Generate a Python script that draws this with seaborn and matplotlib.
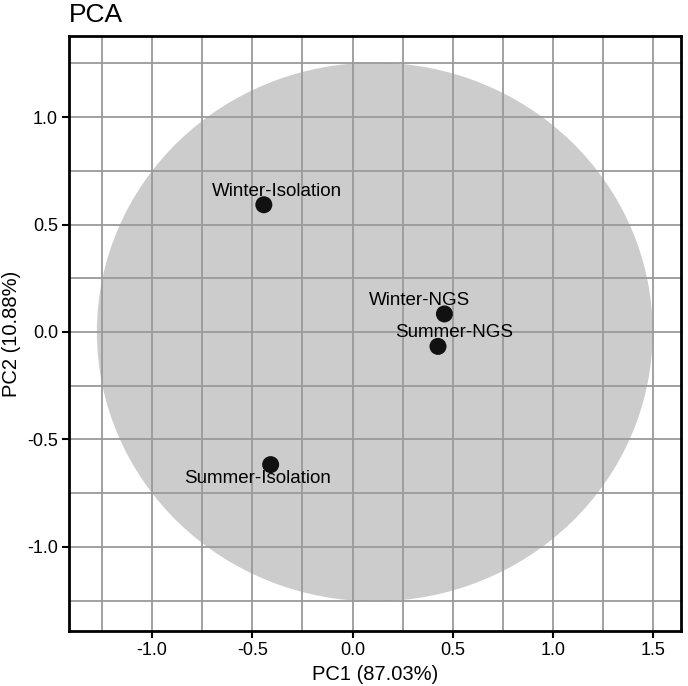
import matplotlib
matplotlib.use("Agg")
import matplotlib.pyplot as plt
from matplotlib.patches import Ellipse
from matplotlib.ticker import MultipleLocator
import seaborn as sns
import pandas as pd

# sample scores on the first two components
samples = ["Winter-Isolation", "Winter-NGS", "Summer-NGS", "Summer-Isolation"]
pc1 = [-0.442, 0.458, 0.426, -0.408]
pc2 = [0.592, 0.084, -0.067, -0.617]

# confidence ellipse
ell_center = (0.111, 0.0)
ell_width = 2.77
ell_height = 2.506

df = pd.DataFrame({"sample": samples, "PC1": pc1, "PC2": pc2})

sns.set_style("white")
plt.rcParams["font.family"] = ["Liberation Sans", "DejaVu Sans"]
plt.rcParams["axes.unicode_minus"] = False
plt.rcParams["text.color"] = "black"
plt.rcParams["axes.labelcolor"] = "black"
plt.rcParams["xtick.color"] = "black"
plt.rcParams["ytick.color"] = "black"

fig = plt.figure(figsize=(6.88, 6.86), dpi=100)
ax = fig.add_axes([0.1003, 0.0802, 0.8895, 0.8673])

ax.add_patch(Ellipse(ell_center, ell_width, ell_height, facecolor="#cccccc",
                     edgecolor="none", zorder=0.5))

sns.scatterplot(data=df, x="PC1", y="PC2", ax=ax, s=150, color="#111111",
                edgecolor="none", zorder=4, legend=False)

# label offsets in pixels (repel-like placement)
offsets = [(13, 13), (-25, 13), (16, 14), (-13, -14)]
for name, x, y, off in zip(samples, pc1, pc2, offsets):
    ax.annotate(name, (x, y), xytext=off, textcoords="offset pixels",
                ha="center", va="center", fontsize=13.5, color="black", zorder=3)

ax.set_xlim(-1.413, 1.637)
ax.set_ylim(-1.391, 1.377)
ax.xaxis.set_major_locator(MultipleLocator(0.5))
ax.yaxis.set_major_locator(MultipleLocator(0.5))
ax.xaxis.set_minor_locator(MultipleLocator(0.25))
ax.yaxis.set_minor_locator(MultipleLocator(0.25))
ax.set_axisbelow(False)
ax.grid(True, which="both", color="#9a9a9a", linewidth=1.3, zorder=2)
ax.tick_params(which="major", direction="out", length=5, width=1.5, color="black",
               labelsize=13, left=True, bottom=True, pad=3)
ax.tick_params(which="minor", length=0)
for sp in ax.spines.values():
    sp.set_color("black")
    sp.set_linewidth(2)
    sp.set_zorder(5)

ax.set_xlabel("PC1 (87.03%)", fontsize=14.5)
ax.set_ylabel("PC2 (10.88%)", fontsize=14.5)
ax.xaxis.set_label_coords(0.5, -0.058)
ax.yaxis.set_label_coords(-0.078, 0.5)
ax.set_title("PCA", loc="left", fontsize=19, pad=10, x=0.0, color="black")

fig.savefig("out.png", dpi=100)
